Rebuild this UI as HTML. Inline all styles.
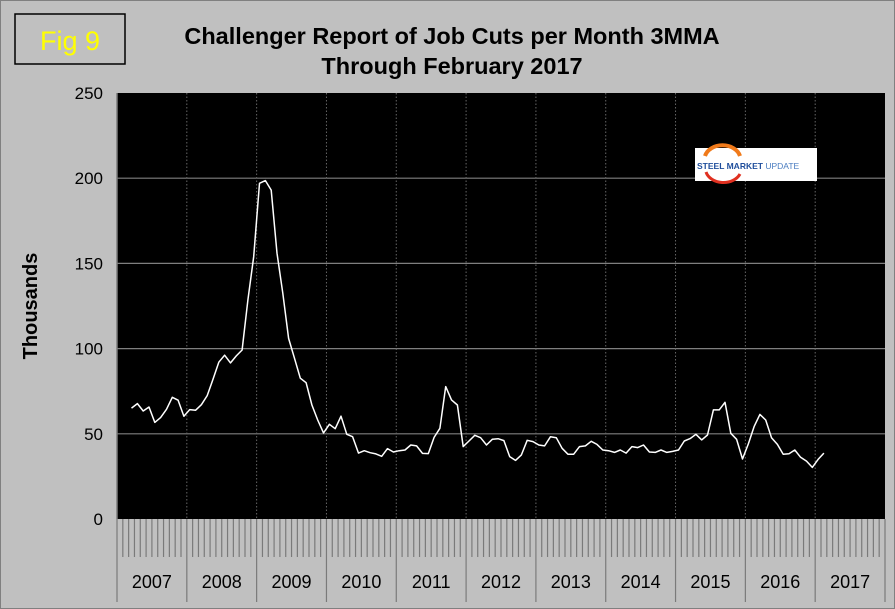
<!DOCTYPE html>
<html><head><meta charset="utf-8"><style>
html,body{margin:0;padding:0;background:#c0c0c0;}
svg{display:block;font-family:"Liberation Sans",Arial,sans-serif;}
</style></head><body>
<svg width="895" height="609" viewBox="0 0 895 609">
<rect x="0" y="0" width="895" height="609" fill="#c0c0c0" stroke="#808080" stroke-width="2"/>
<rect x="15" y="14" width="110" height="50" fill="#c0c0c0" stroke="#000" stroke-width="1.5"/>
<text x="70" y="50" text-anchor="middle" font-size="27" fill="#ffff00">Fig 9</text>
<text x="452" y="44" text-anchor="middle" font-size="23.5" font-weight="bold">Challenger Report of Job Cuts per Month 3MMA</text>
<text x="452" y="74" text-anchor="middle" font-size="23.5" font-weight="bold">Through February 2017</text>
<text transform="translate(37,306) rotate(-90)" text-anchor="middle" font-size="20" font-weight="bold">Thousands</text>
<rect x="117" y="93" width="768" height="426" fill="#000"/>
<g id="grid"></g>
<g id="xaxis"></g>
<g id="yaxis"></g>
<g>
<rect x="695" y="148" width="122" height="33" fill="#fff"/>
<path d="M705,156 A18,14 0 0 1 740,156" fill="none" stroke="#f07a1a" stroke-width="4"/>
<path d="M706,172 A18,14 0 0 0 740,174" fill="none" stroke="#e03020" stroke-width="3"/>
<text x="697" y="169" font-size="8.5" font-weight="bold" fill="#1f4e9c">STEEL MARKET <tspan font-weight="normal" fill="#4a7cc0">UPDATE</tspan></text>
</g>
<polyline id="line" fill="none" stroke="#fff" stroke-width="1.5" stroke-linejoin="round"/>
</svg>
<script>
const years = ["2007","2008","2009","2010","2011","2012","2013","2014","2015","2016","2017"];
const yTicks = [0,50,100,150,200,250];
const startIndex = 2; // first value = Mar 2007
const values = [65.1,67.7,63.4,65.7,56.7,59.5,64.4,71.4,69.7,60.3,64.2,63.8,67.1,72.4,82,92,96.1,91.6,95.7,99.2,128.6,154,197,198.6,193,156,132.5,106,94.3,82.6,80,66.9,58.1,50.5,55.6,53,60.3,49.7,48.3,38.7,40.1,38.9,38.2,36.8,41.3,39.3,
40.1,40.5,43.4,42.9,38.5,38.4,47.9,53.2,77.7,69.9,66.9,42.5,45.8,49.1,47.7,43.4,46.8,47.1,46,36.6,34.4,37.6,46.2,45.4,43.4,42.9,48.3,47.7,41.5,38,38,42.5,42.9,45.6,43.8,40.5,40.1,39.1,40.5,38.7,42.5,41.9,
43.4,39.3,39.1,40.5,39.1,39.7,40.5,45.8,47.2,49.7,46.4,49.3,64,64,68.5,50.3,46.8,35.2,44,54.2,61.4,58.1,47.7,43.8,38,38.3,40.5,36.2,34,30.3,35,38.7];
const X0=117,X1=885,Y0=519,Y1=93,YMAX=250;
const nMonths=years.length*12, mw=(X1-X0)/nMonths;
const xs=i=>X0+(i+0.5)*mw;
const ys=v=>Y0-v/YMAX*(Y0-Y1);
const NS="http://www.w3.org/2000/svg";
function mk(tag,attrs,parent){const e=document.createElementNS(NS,tag);for(const k in attrs)e.setAttribute(k,attrs[k]);document.getElementById(parent).appendChild(e);return e;}
yTicks.forEach(t=>{
  if(t>0&&t<YMAX){const g=mk('line',{x1:X0,x2:X1,y1:ys(t),y2:ys(t),stroke:'#7f7f7f','stroke-width':1.2},'grid');
  
  }
  const tx=mk('text',{x:103,y:ys(t)+6,'text-anchor':'end','font-size':17},'yaxis');
  tx.textContent=t;
  
  
});
for(let y=1;y<years.length;y++){
  const x=X0+y*12*mw;
  const g=mk('line',{x1:x,x2:x,y1:Y1,y2:Y0,stroke:'#666','stroke-width':1,'stroke-dasharray':'1.5,2'},'grid');
  
  
}
for(let m=0;m<=nMonths;m++){
  const x=X0+m*mw;
  const yr=m%12===0;
  const t=mk('line',{x1:x,x2:x,y1:Y0,y2:yr?602:557,stroke:'#7a7a7a','stroke-width':1.2},'xaxis');
  
  
}
mk('line',{x1:X0,x2:X0,y1:Y1,y2:Y0,stroke:'#7a7a7a','stroke-width':1.5},'yaxis');
years.forEach((yv,i)=>{
  const tx=mk('text',{x:X0+(i*12+6)*mw,y:588,'text-anchor':'middle','font-size':18},'xaxis');
  tx.textContent=yv;
  
  
});
document.getElementById('line').setAttribute('points',values.map((v,i)=>xs(i+startIndex).toFixed(1)+','+ys(v).toFixed(1)).join(' '));
</script>
</body></html>
